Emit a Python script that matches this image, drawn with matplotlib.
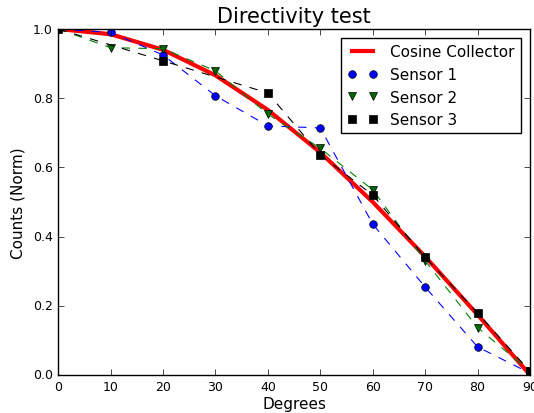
import matplotlib
matplotlib.use('Agg')
import matplotlib.pyplot as plt

plt.style.use('classic')

# angles in degrees
angles = [0, 10, 20, 30, 40, 50, 60, 70, 80, 90]
cosine = [1.0, 0.985, 0.940, 0.866, 0.766, 0.643, 0.500, 0.342, 0.174, 0.0]

sensor1 = [1.0, 0.99, 0.925, 0.807, 0.72, 0.714, 0.436, 0.254, 0.081, 0.005]
sensor2 = [1.0, 0.946, 0.943, 0.879, 0.754, 0.655, 0.535, 0.33, 0.137, 0.01]

angles3 = [0, 20, 40, 50, 60, 70, 80, 90]
sensor3 = [1.0, 0.908, 0.815, 0.636, 0.52, 0.34, 0.179, 0.01]

fig = plt.figure(figsize=(5.34, 4.14), dpi=100)
ax = fig.add_subplot(111)
fig.subplots_adjust(left=0.109, right=0.9925, bottom=0.092, top=0.9275)

ax.plot(angles, cosine, 'r-', linewidth=3, label='Cosine Collector')
ax.plot(angles, sensor1, 'bo', markersize=5.5, label='Sensor 1')
ax.plot(angles, sensor1, 'b--', linewidth=0.8)
ax.plot(angles, sensor2, 'v', color='darkgreen', markersize=5.5, label='Sensor 2')
ax.plot(angles, sensor2, 'g--', linewidth=0.8)
ax.plot(angles3, sensor3, 'ks', markersize=5.5, label='Sensor 3')
ax.plot(angles3, sensor3, 'k--', linewidth=0.8)

ax.set_xlim(0, 90)
ax.set_ylim(0, 1.0)
ax.set_xlabel('Degrees', fontsize=11, labelpad=2)
ax.set_ylabel('Counts (Norm)', fontsize=11)
ax.set_title('Directivity test', fontsize=15)
ax.tick_params(labelsize=9, pad=4)
ax.legend(loc='upper right', fontsize=11, borderaxespad=0.6)

fig.savefig('out.png', dpi=100)
